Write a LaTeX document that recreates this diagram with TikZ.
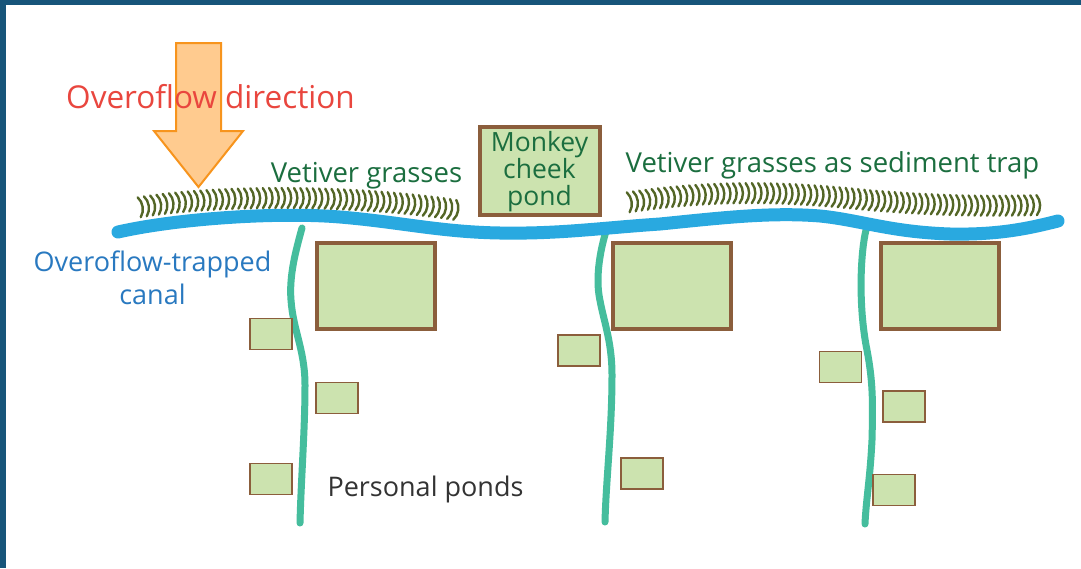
\documentclass[tikz,border=0pt]{standalone}
\usepackage{fontspec}
\setmainfont{Open Sans}
\usetikzlibrary{decorations.markings}

\definecolor{frameblue}{HTML}{17557A}
\definecolor{canalblue}{HTML}{29A9E0}
\definecolor{laneteal}{HTML}{45BD9D}
\definecolor{pondfill}{HTML}{CCE3AF}
\definecolor{pondedge}{HTML}{8B5E3C}
\definecolor{grassgreen}{HTML}{536626}
\definecolor{arrowfill}{HTML}{FFCB8F}
\definecolor{arroworange}{HTML}{F7941D}
\definecolor{flowred}{HTML}{E9463E}
\definecolor{labelgreen}{HTML}{1B6E3F}
\definecolor{canaltext}{HTML}{2979C0}
\definecolor{darktext}{HTML}{333333}

\tikzset{
  bigpond/.style={draw=pondedge, fill=pondfill, line width=4pt, inner sep=0pt,
    minimum width=118pt, minimum height=86pt},
  smallpond/.style={draw=pondedge, fill=pondfill, line width=1.6pt, inner sep=0pt,
    minimum width=42pt, minimum height=31pt},
  canalline/.style={draw=canalblue, line width=13pt, line cap=round},
  laneline/.style={draw=laneteal, line width=7pt, line cap=round},
  grassrow/.style={decorate, decoration={markings,
    mark=between positions 0 and 1 step 6.2pt with
      {\draw[grassgreen, line width=2.4pt, line cap=round]
        (-1.8,-10) .. controls (2.8,-4.5) and (2.8,4.5) .. (-1.8,10);}}},
  label/.style={inner sep=0pt, anchor=base, font=\fontsize{27}{33}\selectfont},
}

\begin{document}
\begin{tikzpicture}[x=1pt, y=-1pt]
  \useasboundingbox (0,0) rectangle (1081,568);
  \fill[white] (0,0) rectangle (1081,568);

  % frame strips
  \fill[frameblue] (0,0) rectangle (1081,4.5);
  \fill[frameblue] (0,0) rectangle (6,568);

  % lanes leading from the canal
  \path[laneline] (302,228) .. controls (296,250) and (289,275) .. (291,300)
    .. controls (293,330) and (305,350) .. (305,385)
    .. controls (305,430) and (301,480) .. (300,523);
  \path[laneline] (607,228) .. controls (600,250) and (596,275) .. (599,295)
    .. controls (603,320) and (612,340) .. (612,375)
    .. controls (612,430) and (606,480) .. (605,522);
  \path[laneline] (866,230) .. controls (861,250) and (858,300) .. (866,345)
    .. controls (873,380) and (873,400) .. (872,440)
    .. controls (870,480) and (866,500) .. (865,524);

  % canal
  \path[canalline] (118,232) .. controls (180,218) and (280,212) .. (340,217)
    .. controls (400,222) and (440,232) .. (500,233)
    .. controls (560,234) and (600,228) .. (660,224)
    .. controls (720,218) and (770,212) .. (820,216)
    .. controls (860,220) and (890,232) .. (950,234)
    .. controls (1000,235) and (1030,228) .. (1058,221);

  % vetiver rows
  \path[grassrow] (141,207) .. controls (230,193) and (370,196) .. (462,211);
  \path[grassrow] (630,202) .. controls (720,189) and (790,192) .. (867,200)
    .. controls (950,207) and (1000,206) .. (1043,205);

  % ponds
  \node[bigpond] (pondA) at (375.5,286) {};
  \node[bigpond] (pondB) at (671.5,286) {};
  \node[bigpond] (pondC) at (940,286) {};
  \node[bigpond, minimum width=120pt, minimum height=88pt] (monkey) at (539.5,171) {};

  \node[smallpond] (s1) at (271,334) {};
  \node[smallpond] (s2) at (337,398) {};
  \node[smallpond] (s3) at (271,479) {};
  \node[smallpond] (s4) at (579,350.5) {};
  \node[smallpond] (s5) at (642,473.5) {};
  \node[smallpond] (s6) at (840.5,367) {};
  \node[smallpond] (s7) at (904,406.5) {};
  \node[smallpond] (s8) at (894,490) {};

  % overflow arrow
  \draw[arroworange, fill=arrowfill, line width=2pt, line join=miter]
    (176,43) -- (221,43) -- (221,131) -- (243,131) -- (198.5,187)
    -- (154,131) -- (176,131) -- cycle;

  % labels
  \node[label, text=flowred, font=\fontsize{31.5}{38}\selectfont] (flow) at (210.5,108) {Overoflow direction};
  \node[label, text=labelgreen, font=\fontsize{27.5}{33}\selectfont] (vetA) at (366.5,182) {Vetiver grasses};
  \node[label, text=labelgreen, font=\fontsize{27.5}{33}\selectfont] (vetB) at (832.5,172) {Vetiver grasses as sediment trap};
  \node[label, text=labelgreen, font=\fontsize{26.5}{27}\selectfont] (m1) at (539.5,151) {Monkey};
  \node[label, text=labelgreen, font=\fontsize{26.5}{27}\selectfont] (m2) at (539.5,178) {cheek};
  \node[label, text=labelgreen, font=\fontsize{26.5}{27}\selectfont] (m3) at (539.5,205) {pond};
  \node[label, text=canaltext] (c1) at (152.5,271) {Overoflow-trapped};
  \node[label, text=canaltext] (c2) at (152.5,304) {canal};
  \node[label, text=darktext] (pp) at (425.5,496) {Personal ponds};
\end{tikzpicture}
\end{document}
